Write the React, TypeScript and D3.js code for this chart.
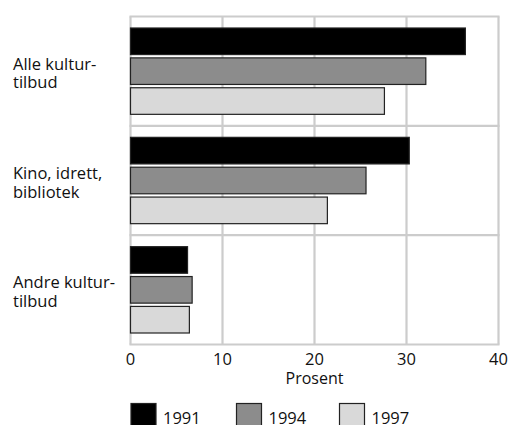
import React from "react";
import * as d3 from "d3";

const categories: string[][] = [
  ["Alle kultur-", "tilbud"],
  ["Kino, idrett,", "bibliotek"],
  ["Andre kultur-", "tilbud"],
];
const seriesNames = ["1991", "1994", "1997"];
const values1991 = [36.4, 30.3, 6.2];
const values1994 = [32.1, 25.6, 6.7];
const values1997 = [27.6, 21.4, 6.4];
const xTicks = [0, 10, 20, 30, 40];
const xLabel = "Prosent";

const colors = ["#000000", "#8c8c8c", "#d9d9d9"];
const FONT = "'Open Sans', sans-serif";

export default function App() {
  const W = 510, H = 425;
  const left = 130.5, right = 498.5, top = 16.5, bottom = 344.5;
  const series = [values1991, values1994, values1997];
  const x = d3.scaleLinear().domain([0, 40]).range([left, right]);
  const y = d3.scaleBand<number>().domain(d3.range(categories.length)).range([top, bottom]).padding(0);
  const inner = d3.scaleBand<number>().domain(d3.range(series.length)).range([11.5, y.bandwidth() - 11.5]).paddingInner(0.11);
  const grid = "#cccccc";
  const legendX = [131, 236.5, 339.5];

  return (
    <svg width={W} height={H} style={{ position: "absolute", left: 0, top: 0, display: "block" }} fontFamily={FONT}>
      <rect x={0} y={0} width={W} height={H} fill="#fff" />
      {/* gridlines */}
      {xTicks.map((t) => (
        <line key={"g" + t} x1={x(t)} x2={x(t)} y1={top} y2={bottom} stroke={grid} strokeWidth={2.2} />
      ))}
      {d3.range(categories.length + 1).map((i) => {
        const yy = i < categories.length ? (y(i) as number) : bottom;
        return <line key={"h" + i} x1={left - 1} x2={right + 1} y1={yy} y2={yy} stroke={grid} strokeWidth={2.2} />;
      })}
      {/* bars */}
      {categories.map((c, ci) =>
        series.map((s, si) => (
          <rect
            key={ci + "-" + si}
            x={x(0)}
            y={(y(ci) as number) + (inner(si) as number)}
            width={x(s[ci]) - x(0)}
            height={inner.bandwidth()}
            fill={colors[si]}
            stroke="#222"
            strokeWidth={1.2}
          />
        ))
      )}
      {/* category labels */}
      {categories.map((c, ci) => {
        const cy = (y(ci) as number) + y.bandwidth() / 2;
        return (
          <text key={"c" + ci} x={13} y={cy - 1.5} fontSize={16.5} fill="#111">
            {c.map((line, li) => (
              <tspan key={li} x={13} dy={li === 0 ? 0 : 18.5}>{line}</tspan>
            ))}
          </text>
        );
      })}
      {/* tick labels */}
      {xTicks.map((t) => (
        <text key={"t" + t} x={x(t)} y={365} textAnchor="middle" fontSize={16.5} fill="#111">{t}</text>
      ))}
      <text x={x(20)} y={384} textAnchor="middle" fontSize={16} fill="#111">{xLabel}</text>
      {/* legend */}
      {seriesNames.map((n, i) => (
        <g key={"l" + i}>
          <rect x={legendX[i]} y={403.5} width={25} height={25} fill={colors[i]} stroke="#222" strokeWidth={1.2} />
          <text x={legendX[i] + 32} y={424} fontSize={16.5} fill="#111">{n}</text>
        </g>
      ))}
    </svg>
  );
}
